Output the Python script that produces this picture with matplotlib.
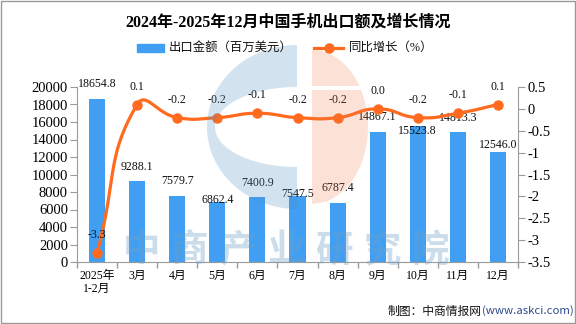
import numpy as np
import matplotlib
matplotlib.use("Agg")
import matplotlib.pyplot as plt
from matplotlib.patches import Rectangle, Polygon
from matplotlib.lines import Line2D

plt.rcParams['font.family'] = ['Liberation Serif', 'Noto Sans CJK SC']
plt.rcParams['axes.unicode_minus'] = False

# 月度数据
months = ['2025年\n1-2月', '3月', '4月', '5月', '6月', '7月', '8月', '9月', '10月', '11月', '12月']
export_value = [18654.8, 9288.1, 7579.7, 6862.4, 7400.9, 7547.5, 6787.4, 14867.1, 15523.8, 14813.3, 12546.0]
yoy_growth = [-3.3, 0.1, -0.2, -0.2, -0.1, -0.2, -0.2, 0.0, -0.2, -0.1, 0.1]

left_ticks = list(range(0, 20001, 2000))
right_ticks = [-3.5, -3.0, -2.5, -2.0, -1.5, -1.0, -0.5, 0.0, 0.5]

title = '2024年-2025年12月中国手机出口额及增长情况'
bar_name = '出口金额（百万美元）'
line_name = '同比增长（%）'

BAR_C = '#409FF3'
LINE_C = '#FF6A1F'
AXIS_C = '#9a9a9a'
W, H = 576, 324

fig = plt.figure(figsize=(5.76, 3.24), dpi=100)
ax = fig.add_axes([77 / W, 1 - 262 / H, (518 - 77) / W, (262 - 87) / H])
ax.patch.set_alpha(0)
x = np.arange(len(months))

bars = ax.bar(x, export_value, width=0.4, color=BAR_C, zorder=2)
ax.set_xlim(-0.5, len(months) - 0.5)
ax.set_ylim(0, 20000)
ax.set_yticks(left_ticks)
ax.set_yticklabels([str(v) for v in left_ticks])

# 类目标签放在主刻度上，刻度线画在类目分界处
ax.set_xticks(x)
ax.set_xticklabels(months, fontsize=8.5, linespacing=1.05)
ax.set_xticks(np.arange(-0.5, len(months)), minor=True)
ax.tick_params(axis='x', which='major', length=0, pad=6)
ax.tick_params(axis='x', which='minor', length=4, color=AXIS_C, width=1)
ax.tick_params(axis='y', length=5, pad=1.5, color=AXIS_C, labelsize=10.5)
for s in ['top', 'right']:
    ax.spines[s].set_visible(False)
for s in ['left', 'bottom']:
    ax.spines[s].set_color(AXIS_C)

# 柱子数值标签（像素偏移）
bar_dy = [-15, -14, -15, -2, -14, -2, -15, -15, 5, -14, -7]
for xi, v, dy in zip(x, export_value, bar_dy):
    ax.annotate(f'{v:.1f}', (xi, v), xytext=(0, -dy * 0.72), textcoords='offset points',
                ha='center', va='center', fontsize=8.6, color='#111111',
                annotation_clip=False, zorder=4)

# 右轴：同比增长
ax2 = ax.twinx()
ax2.set_ylim(-3.5, 0.5)
ax2.set_yticks(right_ticks)
ax2.set_yticklabels(['%g' % v for v in right_ticks])
ax2.tick_params(axis='y', length=5, pad=1.5, color=AXIS_C, labelsize=10.5)
for s in ['top', 'left', 'bottom']:
    ax2.spines[s].set_visible(False)
ax2.spines['right'].set_color(AXIS_C)


def smooth_curve(xs, ys, sx, sy, smooth=0.5, n=30):
    # 贝塞尔平滑，控制点在像素尺度下计算
    p = np.column_stack([np.asarray(xs, float) * sx, np.asarray(ys, float) * sy])
    cps = []
    for i in range(len(p)):
        prev = p[i - 1] if i > 0 else p[i]
        nxt = p[i + 1] if i < len(p) - 1 else p[i]
        v = (nxt - prev) * smooth
        d0 = np.linalg.norm(p[i] - prev)
        d1 = np.linalg.norm(p[i] - nxt)
        tot = d0 + d1
        if tot > 0:
            d0, d1 = d0 / tot, d1 / tot
        cps.append((p[i] - v * d0, p[i] + v * d1))
    t = np.linspace(0, 1, n)[:, None]
    out = [p[:1]]
    for i in range(len(p) - 1):
        a, b, c, d = p[i], cps[i][1], cps[i + 1][0], p[i + 1]
        seg = (1 - t) ** 3 * a + 3 * (1 - t) ** 2 * t * b + 3 * (1 - t) * t ** 2 * c + t ** 3 * d
        out.append(seg[1:])
    out = np.vstack(out)
    return out[:, 0] / sx, out[:, 1] / sy


cx, cy = smooth_curve(x, yoy_growth, 40.0, 43.75)
ax2.plot(cx, cy, color=LINE_C, lw=2.3, solid_capstyle='round', zorder=3)
ax2.plot(x, yoy_growth, 'o', color=LINE_C, markersize=6.5, zorder=4)
for xi, v in zip(x, yoy_growth):
    ax2.annotate(f'{v:.1f}', (xi, v), xytext=(0, 18 * 0.72), textcoords='offset points',
                 ha='center', va='center', fontsize=8.6, color='#111111',
                 annotation_clip=False, zorder=5)

# 像素坐标的覆盖层：标题、图例、水印、边框
ov = fig.add_axes([0, 0, 1, 1], zorder=10)
ov.set_xlim(0, W)
ov.set_ylim(H, 0)
ov.axis('off')
ov.patch.set_alpha(0)

ov.text(288, 23, title, ha='center', va='center', fontsize=11.5, fontweight='bold', color='#000000')

ov.add_patch(Rectangle((137, 44), 27, 8, color=BAR_C))
ov.text(169, 48, bar_name, ha='left', va='center', fontsize=8.9, color='#111111')
ov.add_line(Line2D([314, 343], [48, 48], color=LINE_C, lw=2.3))
ov.plot([329], [48], 'o', color=LINE_C, markersize=6.5)
ov.text(349, 48, line_name, ha='left', va='center', fontsize=8.9, color='#111111')


def half_ellipse_pts(cx0, cy0, rx, ry, t0, t1, n=80):
    th = np.linspace(t0, t1, n)
    return np.column_stack([cx0 + rx * np.cos(th), cy0 - ry * np.sin(th)])


# 标志：蓝色 C 形（外半椭圆减去内半椭圆）
outer = half_ellipse_pts(297, 127, 90, 82, np.pi / 2, 3 * np.pi / 2)
inner = half_ellipse_pts(297, 127, 82, 40, 3 * np.pi / 2, np.pi / 2)
c_shape = np.vstack([outer, inner])
ov.add_patch(Polygon(c_shape, closed=True, facecolor='#4f8fc0', edgecolor='none', alpha=0.25))


# 橙色半椭圆，中间留一道白缝
def right_half(y0, y1, cx0=312, cy0=127, rx=56, ry=77):
    ys = np.linspace(y0, y1, 50)
    xs = cx0 + rx * np.sqrt(np.clip(1 - ((ys - cy0) / ry) ** 2, 0, None))
    return np.vstack([[[cx0, y0]], np.column_stack([xs, ys]), [[cx0, y1]]])


for y0, y1 in [(50, 86), (90, 204)]:
    ov.add_patch(Polygon(right_half(y0, y1), closed=True, facecolor='#f07a45',
                         edgecolor='none', alpha=0.22))

for i, ch in enumerate('中商产业研究院'):
    ov.text(142 + 48 * i, 250, ch, ha='center', va='center', fontsize=27, fontweight='bold',
            color='#6f9fc8', alpha=0.36, family='Noto Sans CJK SC')

ov.text(482, 311, '制图：中商情报网', ha='right', va='center', fontsize=8.5,
        color='#111111', family='Noto Sans CJK SC')
ov.text(482, 311, '(www.askci.com)', ha='left', va='center', fontsize=8.2,
        color='#2e4a8e', family='Noto Sans CJK SC')

ov.add_patch(Rectangle((0.5, 0.5), W - 1.5, H - 1.5, facecolor='none', edgecolor='#999999', lw=1))

fig.savefig('out.png', dpi=100)
